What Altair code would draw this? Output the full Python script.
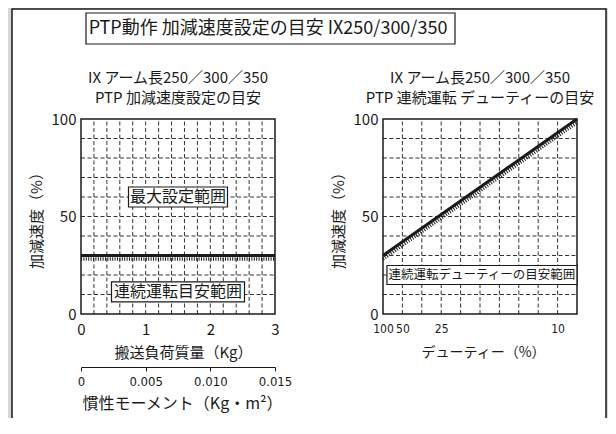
import altair as alt
import pandas as pd

FONT = "Noto Sans CJK JP"
NARROW = "Liberation Sans Narrow, DejaVu Sans Condensed, Noto Sans CJK JP"
INK = "#1a1a1a"
GRID = "#333333"

# ---------------- texts ----------------
main_title = "PTP動作 加減速度設定の目安 IX250/300/350"
left_titles = ["IX アーム長250／300／350", "PTP 加減速度設定の目安"]
right_titles = ["IX アーム長250／300／350", "PTP 連続運転 デューティーの目安"]
y_title = "加減速度（%）"
mass_title = "搬送負荷質量（Kg）"
inertia_title = "慣性モーメント（Kg・m²）"
duty_title = "デューティー（%）"

# ---------------- axes / ticks ----------------
mass_domain = [0, 3]
mass_ticks = [0, 1, 2, 3]
mass_grid = [0.2, 0.4, 0.6, 0.8, 1.0, 1.2, 1.4, 1.6, 1.8, 2.0, 2.2, 2.4, 2.6, 2.8]
inertia_domain = [0, 0.015]
inertia_ticks = [0, 0.005, 0.010, 0.015]
inertia_labels = ["0", "0.005", "0.010", "0.015"]
duty_domain = [0, 10]
duty_grid = [1, 2, 3, 4, 5, 6, 7, 8, 9]
duty_ticks = [0, 1, 3, 9]
duty_labels = ["100", "50", "25", "10"]
accel_domain = [0, 100]
accel_ticks = [0, 50, 100]
accel_grid = [10, 20, 30, 40, 50, 60, 70, 80, 90]

# ---------------- series ----------------
left_limit_x = [0, 3]
left_limit_y = [30, 30]
right_limit_x = [0, 10]
right_limit_y = [30, 100]

left_box_x = [1.5, 1.5]
left_box_y = [60, 11.3]
left_box_text = ["最大設定範囲", "連続運転目安範囲"]
right_box_x = [5.1]
right_box_y = [20]
right_box_text = ["連続運転デューティーの目安範囲"]

# ---------------- layout ----------------
PW = 194      # width of each plot
H = 195       # plot height
RX0 = 302     # left edge of right plot inside the layer

def lab(v_list, l_list):
    expr = "''"
    for v, l in reversed(list(zip(v_list, l_list))):
        expr = f"abs(datum.value - {v}) < 1e-9 ? '{l}' : ({expr})"
    return expr

yAxisBase = dict(orient="left", values=accel_ticks, grid=False, domain=False, ticks=False,
                 labelFont=FONT, labelFontSize=15, labelColor=INK, labelPadding=5,
                 title=y_title, titleFont=FONT, titleFontSize=15, titleFontWeight="normal",
                 titleColor=INK, titlePadding=7, zindex=2)


def panel_layers(xscale, xaxis, yscale, yaxis, grid_x, limit_x, limit_y, box_x, box_y,
                 box_text, box_w, box_h, box_font, titles):
    def enc(ch, xf, yf, **extra):
        return ch.encode(x=alt.X(xf, scale=xscale, axis=xaxis),
                         y=alt.Y(yf, scale=yscale, axis=yaxis), **extra)

    d0, d1 = xscale.domain[0], xscale.domain[1]
    vgrid = enc(alt.Chart(pd.DataFrame({"x": grid_x, "y0": accel_domain[0], "y1": accel_domain[1]}))
                .mark_rule(color=GRID, strokeDash=[4, 2.5], strokeWidth=1),
                "x:Q", "y0:Q", y2="y1:Q")
    hgrid = enc(alt.Chart(pd.DataFrame({"y": accel_grid, "x0": d0, "x1": d1}))
                .mark_rule(color=GRID, strokeDash=[4, 2.5], strokeWidth=1),
                "x0:Q", "y:Q", x2="x1:Q")
    frame = enc(alt.Chart(pd.DataFrame({"x0": [d0], "x1": [d1], "y0": [accel_domain[0]], "y1": [accel_domain[1]]}))
                .mark_rect(fill=None, filled=False, stroke=INK, strokeWidth=1.5),
                "x0:Q", "y0:Q", x2="x1:Q", y2="y1:Q")
    ldf = pd.DataFrame({"x": limit_x, "y": limit_y})
    hatch = enc(alt.Chart(ldf).mark_line(color=INK, strokeWidth=3.5, strokeDash=[1, 1.4], yOffset=3.5),
                "x:Q", "y:Q")
    line = enc(alt.Chart(ldf).mark_line(color=INK, strokeWidth=3), "x:Q", "y:Q")
    layers = [vgrid, hgrid, frame, hatch, line]
    for bx, by, bt, bw in zip(box_x, box_y, box_text, box_w):
        bdf = pd.DataFrame({"x": [bx], "y": [by], "t": [bt]})
        layers.append(enc(alt.Chart(bdf).mark_rect(width=bw, height=box_h, fill="white",
                                                   stroke=INK, strokeWidth=1.2), "x:Q", "y:Q"))
        layers.append(enc(alt.Chart(bdf).mark_text(font=FONT, fontSize=box_font, color=INK,
                                                   align="center", baseline="middle"),
                          "x:Q", "y:Q", text="t:N"))
    cx = (d0 + d1) / 2
    for t, dy in zip(titles, [-41, -21]):
        tdf = pd.DataFrame({"x": [cx], "y": [accel_domain[1]], "t": [t]})
        layers.append(enc(alt.Chart(tdf).mark_text(font=FONT, fontSize=15, color=INK,
                                                   align="center", baseline="middle", dy=dy),
                          "x:Q", "y:Q", text="t:N"))
    return alt.layer(*layers)


# left panel
xL = alt.Scale(domain=mass_domain, range=[0, PW], nice=False, zero=False)
yL = alt.Scale(domain=accel_domain, nice=False)
axLx = alt.Axis(orient="bottom", values=mass_ticks, grid=False, domain=False, ticks=False,
                labelFont=FONT, labelFontSize=15, labelColor=INK, labelPadding=8,
                labelFlush=False, labelOverlap=False,
                title=mass_title, titleFont=FONT, titleFontSize=15, titleFontWeight="normal",
                titleColor=INK, titlePadding=8, titleX=PW / 2 + 5, zindex=2)
axLy = alt.Axis(offset=0, **yAxisBase)
left = panel_layers(xL, axLx, yL, axLy, mass_grid, left_limit_x, left_limit_y,
                    left_box_x, left_box_y, left_box_text, [99, 133], 20, 16, left_titles)

# right panel
xR = alt.Scale(domain=duty_domain, range=[RX0, RX0 + PW], nice=False, zero=False)
yR = alt.Scale(domain=accel_domain, nice=False)
axRx = alt.Axis(orient="bottom", values=duty_ticks, labelExpr=lab(duty_ticks, duty_labels),
                grid=False, domain=False, ticks=False,
                labelFont=NARROW, labelFontSize=12, labelColor=INK, labelPadding=9,
                labelFlush=False, labelOverlap=False,
                title=duty_title, titleFont=FONT, titleFontSize=14, titleFontWeight="normal",
                titleColor=INK, titlePadding=11, titleX=RX0 + PW / 2 + 3, zindex=2)
axRy = alt.Axis(offset=-RX0, **yAxisBase)
right = panel_layers(xR, axRx, yR, axRy, duty_grid, right_limit_x, right_limit_y,
                     right_box_x, right_box_y, right_box_text, [190], 19, 12.5, right_titles)

# secondary (inertia) axis under the left panel
inertia = alt.Chart(pd.DataFrame({"x": inertia_domain})).mark_rule(opacity=0).encode(
    x=alt.X("x:Q", scale=alt.Scale(domain=inertia_domain, range=[0, PW], nice=False, zero=False),
            axis=alt.Axis(orient="bottom", offset=53, values=inertia_ticks,
                          labelExpr=lab(inertia_ticks, inertia_labels),
                          grid=False, domain=True, domainColor=INK, domainWidth=1,
                          ticks=True, tickColor=INK, tickSize=4, tickWidth=1,
                          labelFont=NARROW, labelFontSize=13, labelColor=INK, labelPadding=4,
                          labelFlush=False, labelOverlap=False,
                          title=inertia_title, titleFont=FONT, titleFontSize=16,
                          titleFontWeight="normal", titleColor=INK, titlePadding=7,
                          titleX=PW / 2 + 4, zindex=2))
)

# decorations: white sheet, boxed main title
one = pd.DataFrame({"t": [main_title]})
sheet = alt.Chart(one).mark_rect(fill="white", stroke=INK, strokeWidth=1.5).encode(
    x=alt.value(-69), x2=alt.value(525), y=alt.value(-110), y2=alt.value(420))
tbox = alt.Chart(one).mark_rect(fill="white", stroke=INK, strokeWidth=1.2).encode(
    x=alt.value(5), x2=alt.value(374), y=alt.value(-106), y2=alt.value(-75))
ttext = alt.Chart(one).mark_text(font=FONT, fontSize=18, color=INK, align="center",
                                 baseline="middle").encode(
    x=alt.value(187), y=alt.value(-90.5), text="t:N")

chart = (
    alt.layer(sheet, tbox, ttext, left, right, inertia)
    .resolve_scale(x="independent", y="independent")
    .properties(width=RX0 + PW, height=H,
                padding={"left": 73, "top": 111, "right": 31, "bottom": 104},
                autosize=alt.AutoSizeParams(type="none"),
                background="#d6d6d6")
    .configure_view(stroke=None)
)

chart.save("out.html", embed_options={"renderer": "svg", "actions": False})
